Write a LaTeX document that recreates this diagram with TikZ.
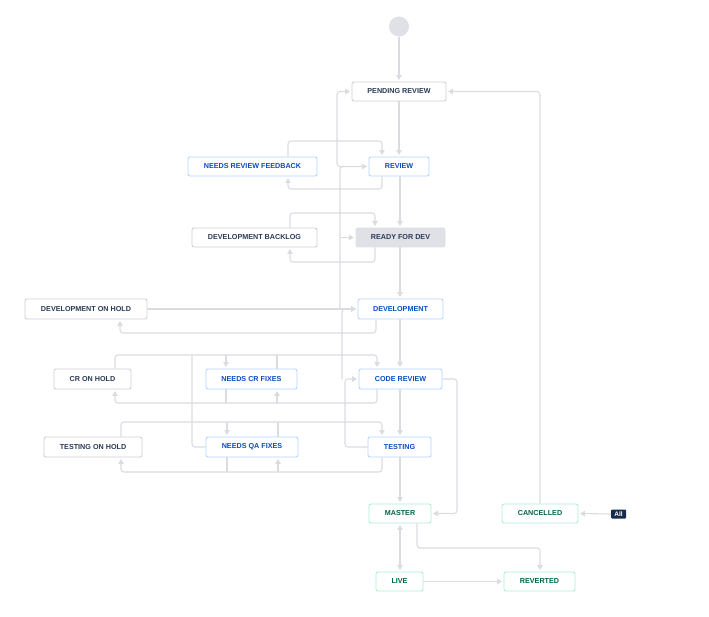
\documentclass[tikz,border=0pt]{standalone}
\usepackage{fontspec}
\setmainfont{Liberation Sans}
\usetikzlibrary{arrows.meta}
\definecolor{linec}{HTML}{DADCE1}
\definecolor{grayborder}{HTML}{CDD0D6}
\definecolor{graytext}{HTML}{2B3A55}
\definecolor{blueborder}{HTML}{B3D4FF}
\definecolor{bluetext}{HTML}{0A4DBF}
\definecolor{greenborder}{HTML}{ABF0D1}
\definecolor{greentext}{HTML}{006644}
\definecolor{rfdfill}{HTML}{DFE1E6}
\definecolor{badge}{HTML}{172B4D}
\tikzset{
  st/.style={draw, rounded corners=2pt, line width=0.9pt, minimum height=19pt,
    inner sep=0pt, font=\fontsize{7.2}{8}\selectfont\bfseries},
  graynode/.style={st, draw=grayborder, text=graytext, fill=white},
  bluenode/.style={st, draw=blueborder, text=bluetext, fill=white},
  greennode/.style={st, draw=greenborder, text=greentext, fill=white},
  conn/.style={draw=linec, line width=1.1pt, rounded corners=3pt},
  arr/.style={conn, -{Triangle[length=5pt,width=5.5pt]}, shorten >=1.5pt},
  darr/.style={conn, {Triangle[length=5pt,width=5.5pt]}-{Triangle[length=5pt,width=5.5pt]}, shorten >=1.5pt, shorten <=1.5pt},
}
\begin{document}
\begin{tikzpicture}[x=1pt,y=-1pt]
\useasboundingbox (0,0) rectangle (709,617);
% start
\node[circle, fill=rfdfill, minimum size=20pt, inner sep=0pt] (start) at (399,26.5) {};
% nodes
\node[graynode, minimum width=94pt] (pr) at (399,91.5) {PENDING REVIEW};
\node[bluenode, minimum width=60pt] (review) at (399,166.5) {REVIEW};
\node[bluenode, minimum width=129pt] (nrf) at (252.5,166.5) {NEEDS REVIEW FEEDBACK};
\node[graynode, minimum width=125pt] (db) at (254.5,237.5) {DEVELOPMENT BACKLOG};
\node[graynode, draw=rfdfill, fill=rfdfill, minimum width=89pt] (rfd) at (400.5,237.5) {READY FOR DEV};
\node[bluenode, minimum width=85pt, minimum height=20pt] (dev) at (400.5,309) {DEVELOPMENT};
\node[graynode, minimum width=122pt, minimum height=20pt] (doh) at (86,309) {DEVELOPMENT ON HOLD};
\node[graynode, minimum width=77pt, minimum height=20pt] (crh) at (92.5,379) {CR ON HOLD};
\node[bluenode, minimum width=91pt, minimum height=20pt] (ncf) at (251.5,379) {NEEDS CR FIXES};
\node[bluenode, minimum width=83pt, minimum height=20pt] (cr) at (400.5,379) {CODE REVIEW};
\node[graynode, minimum width=98pt, minimum height=20pt] (toh) at (93,447) {TESTING ON HOLD};
\node[bluenode, minimum width=92pt, minimum height=20pt] (nqf) at (252,447) {NEEDS QA FIXES};
\node[bluenode, minimum width=63pt, minimum height=20pt] (testing) at (399.5,447) {TESTING};
\node[greennode, minimum width=62pt] (master) at (400,513.5) {MASTER};
\node[greennode, minimum width=76pt] (cancelled) at (540,513.5) {CANCELLED};
\node[greennode, minimum width=47pt] (live) at (399.5,581.5) {LIVE};
\node[greennode, minimum width=71pt] (reverted) at (539.5,581.5) {REVERTED};
\node[fill=badge, text=white, rounded corners=1pt, minimum width=15pt, minimum height=9pt, inner sep=0pt,
  font=\fontsize{6.5}{7}\selectfont\bfseries] (all) at (618.5,514) {All};
% free coordinates
\coordinate (jcr) at (342,379);
\coordinate (jdev) at (340,309);
\coordinate (jrfd) at (340,237.5);
\coordinate (jrev) at (345,166.5);
\coordinate (jncf) at (226,355);
\coordinate (jncfb) at (277,403);
\coordinate (jnqf) at (227,422);
\coordinate (jnqfb) at (278,472);
% spine
\draw[arr] (start.south) -- (399,0 |- pr.north);
\draw[arr] (399,0 |- pr.south) -- (399,0 |- review.north);
\draw[arr] (400,0 |- review.south) -- (400,0 |- rfd.north);
\draw[arr] (400,0 |- rfd.south) -- (400,0 |- dev.north);
\draw[arr] (400,0 |- dev.south) -- (400,0 |- cr.north);
\draw[arr] (400,0 |- cr.south) -- (400,0 |- testing.north);
\draw[arr] (400,0 |- testing.south) -- (400,0 |- master.north);
\draw[darr] (400,0 |- master.south) -- (400,0 |- live.north);
% review loop
\draw[arr] (288,0 |- nrf.north) |- (382,141) -- (382,0 |- review.north);
\draw[arr] (382,0 |- review.south) |- (288,189) -- (288,0 |- nrf.south);
% backlog loop
\draw[arr] (290,0 |- db.north) |- (375,213) -- (375,0 |- rfd.north);
\draw[arr] (375,0 |- rfd.south) |- (290,262) -- (290,0 |- db.south);
% dev on hold
\draw[arr] (doh.east) -- (dev.west);
\draw[arr] (376,0 |- dev.south) |- (120,333) -- (120,0 |- doh.south);
% code review row
\draw[arr] (115,0 |- crh.north) |- (377,355) -- (377,0 |- cr.north);
\draw[arr] (jncf) -- (226,0 |- ncf.north);
\draw[conn] (277,0 |- ncf.north) -- (277,355);
\draw[conn] (nqf.west) -| (192,355);
\draw[arr] (377,0 |- cr.south) |- (115,403) -- (115,0 |- crh.south);
\draw[conn] (226,0 |- ncf.south) -- (226,403);
\draw[arr] (jncfb) -- (277,0 |- ncf.south);
% testing row
\draw[arr] (121,0 |- toh.north) |- (382,422) -- (382,0 |- testing.north);
\draw[arr] (jnqf) -- (227,0 |- nqf.north);
\draw[conn] (278,0 |- nqf.north) -- (278,422);
\draw[arr] (382,0 |- testing.south) |- (121,472) -- (121,0 |- toh.south);
\draw[conn] (227,0 |- nqf.south) -- (227,472);
\draw[arr] (jnqfb) -- (278,0 |- nqf.south);
% code review -> master
\draw[arr] (cr.east) -- (457,0 |- cr.east) |- (master.east);
% master -> reverted
\draw[arr] (417,0 |- master.south) |- (540,548) -- (540,0 |- reverted.north);
\draw[arr] (live.east) -- (reverted.west);
% cancelled -> pending review
\draw[arr] (540,0 |- cancelled.north) |- (pr.east);
\draw[arr] (all.west) -- (cancelled.east);
% left strip
\draw[arr] (testing.west) -| (345,379) -- (cr.west);
\draw[arr] (jcr) |- (dev.west);
\draw[arr] (jdev) |- (review.west);
\draw[arr] (jrfd) -- (rfd.west);
\draw[arr] (jrev) -| (337,120) |- (pr.west);
\end{tikzpicture}
\end{document}
